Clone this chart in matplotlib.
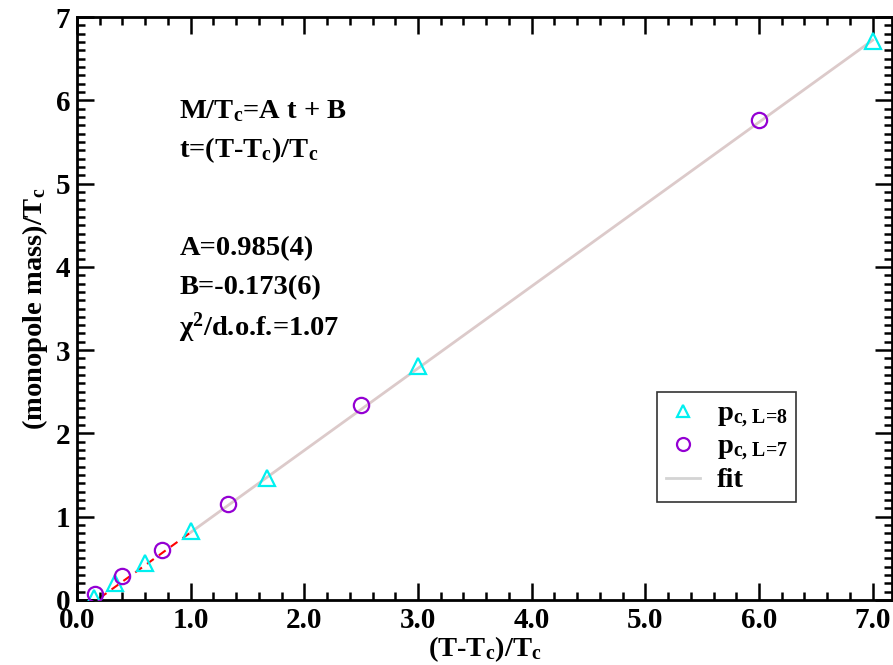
import matplotlib
matplotlib.use("Agg")
import matplotlib.pyplot as plt
import numpy as np
from matplotlib.ticker import MultipleLocator, FormatStrFormatter

plt.rcParams['font.family'] = ['Liberation Serif', 'DejaVu Serif']
plt.rcParams['font.weight'] = 'bold'
plt.rcParams['axes.labelweight'] = 'bold'
plt.rcParams['mathtext.fontset'] = 'custom'
plt.rcParams['mathtext.rm'] = 'Liberation Serif:bold'
plt.rcParams['mathtext.it'] = 'Liberation Serif:bold'
plt.rcParams['mathtext.bf'] = 'Liberation Serif:bold'
plt.rcParams['mathtext.default'] = 'rm'

# data
t_L8 = [0.15, 0.33, 0.60, 1.00, 1.67, 3.00, 7.00]
m_L8 = [0.03, 0.20, 0.45, 0.83, 1.47, 2.81, 6.71]
t_L7 = [0.16, 0.40, 0.75, 1.33, 2.50, 6.00]
m_L7 = [0.07, 0.29, 0.60, 1.15, 2.34, 5.76]
A_fit = 0.985
B_fit = -0.173
fit_range = [1.0, 7.0]
extrap_range = [0.2, 1.0]

W, H = 893, 665
fig = plt.figure(figsize=(W/100, H/100), dpi=100)
x0, x1 = 77, 892
y0, y1 = 600, 17
ax = fig.add_axes([x0/W, (H-y0)/H, (x1-x0)/W, (y0-y1)/H])

fx = np.array(fit_range)
ex = np.array(extrap_range)
ax.plot(t_L8, m_L8, ls='none', marker='^', ms=11, mfc='none', mec='#00f0f0', mew=1.6,
        label=r'p$_{\text{c, L=8}}$', zorder=3)
ax.plot(t_L7, m_L7, ls='none', marker='o', ms=11, mfc='none', mec='#9400d3', mew=1.6,
        label=r'p$_{\text{c, L=7}}$', zorder=3)
ax.plot(fx, A_fit*fx + B_fit, color='#dccaca', lw=2, label='fit', zorder=1)
ax.plot(ex, A_fit*ex + B_fit, color='red', lw=1.5, ls=(0, (4, 3)), zorder=1)

ax.set_xlim(0, 7.17)
ax.set_ylim(0, 7)
ax.xaxis.set_major_locator(MultipleLocator(1.0))
ax.xaxis.set_minor_locator(MultipleLocator(0.2))
ax.xaxis.set_major_formatter(FormatStrFormatter('%.1f'))
ax.yaxis.set_major_locator(MultipleLocator(1.0))
ax.yaxis.set_minor_locator(MultipleLocator(0.1))
ax.yaxis.set_major_formatter(FormatStrFormatter('%d'))
ax.tick_params(which='both', direction='in', top=True, right=True, width=1.8,
               labelsize=21, pad=5)
ax.tick_params(which='major', length=12)
ax.tick_params(which='minor', length=6)
for s in ax.spines.values():
    s.set_linewidth(2)

ax.set_xlabel(r'(T-T$_c$)/T$_c$', fontsize=20.5, labelpad=0)
ax.set_ylabel(r'(monopole mass)/T$_c$', fontsize=20.5, labelpad=4)

tk = dict(fontsize=20.5, fontweight='bold', transform=ax.transData, va='center', ha='left')
ax.text(0.90, 5.87, r'M/T$_c$=A t + B', **tk)
ax.text(0.90, 5.40, r't=(T-T$_c$)/T$_c$', **tk)
ax.text(0.90, 4.22, 'A=0.985(4)', **tk)
ax.text(0.90, 3.75, 'B=-0.173(6)', **tk)
ax.text(0.90, 3.27, r'$\chi^2$/d.o.f.=1.07', **tk)

leg = ax.legend(loc='upper left', bbox_to_anchor=((657-x0)/(x1-x0), (y0-392)/(y0-y1)),
                fontsize=20.5, frameon=True, fancybox=False, handlelength=1.2,
                handletextpad=0.6, borderpad=0.3, labelspacing=0.15, borderaxespad=0,
                markerscale=0.85)
leg.get_frame().set_edgecolor('black')
leg.get_frame().set_linewidth(1.2)
leg.get_lines()[2].set_color('#d4d4d4')

fig.savefig('out.png', dpi=100)
